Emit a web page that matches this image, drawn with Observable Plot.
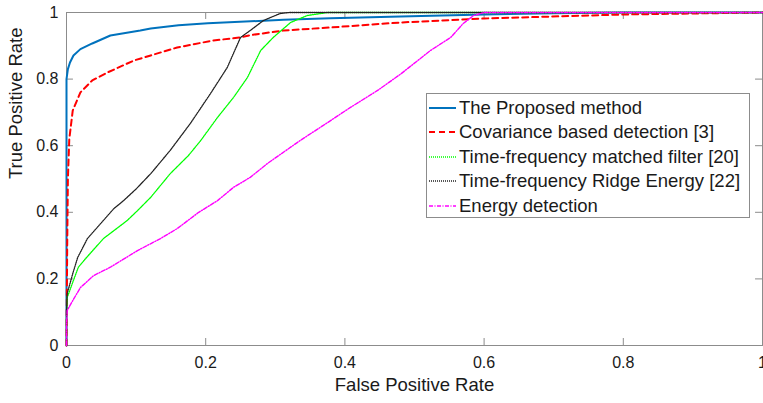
<!DOCTYPE html>
<html>
<head>
<meta charset="utf-8">
<script src="https://cdn.jsdelivr.net/npm/d3@7"></script>
<script src="https://cdn.jsdelivr.net/npm/@observablehq/plot@0.6"></script>
<style>
  html, body { margin: 0; padding: 0; background: #fff; }
  #wrap { position: relative; width: 763px; height: 403px; font-family: "Liberation Sans", Arial, sans-serif; }
  #legend { position: absolute; left: 426px; top: 93px; width: 324px; height: 125px; border: 1px solid #8c8c8c; background: #fff; box-sizing: border-box; }
  .item { position: absolute; left: 0; height: 24px; display: flex; align-items: center; font-size: 18.5px; color: #1a1a1a; white-space: nowrap; }
  .item svg { margin-left: 2px; margin-right: 3px; }
</style>
</head>
<body>
<div id="wrap"><div id="legend"></div></div>
<script>
// ---- data ----
const xTicks = [0, 0.2, 0.4, 0.6, 0.8, 1];
const yTicks = [0, 0.2, 0.4, 0.6, 0.8, 1];

const seriesNames = [
  "The Proposed method",
  "Covariance based detection [3]",
  "Time-frequency matched filter [20]",
  "Time-frequency Ridge Energy [22]",
  "Energy detection"
];

const proposedFpr = [0, 0, 0.002, 0.005, 0.01, 0.02, 0.037, 0.063, 0.106, 0.121, 0.161, 0.203, 0.312, 0.379, 0.48, 0.6, 0.7, 0.8, 1];
const proposedTpr = [0, 0.8, 0.83, 0.85, 0.871, 0.89, 0.907, 0.931, 0.946, 0.952, 0.962, 0.968, 0.978, 0.983, 0.988, 0.994, 0.998, 1, 1];

const covarianceFpr = [0, 0.001, 0.002, 0.004, 0.009, 0.02, 0.037, 0.059, 0.097, 0.121, 0.159, 0.211, 0.25, 0.264, 0.312, 0.379, 0.48, 0.6, 0.8, 1];
const covarianceTpr = [0, 0.3, 0.5, 0.62, 0.706, 0.76, 0.796, 0.82, 0.856, 0.871, 0.895, 0.916, 0.925, 0.932, 0.946, 0.955, 0.97, 0.982, 0.994, 1];

const matchedFpr = [0, 0, 0.001, 0.009, 0.017, 0.027, 0.053, 0.087, 0.102, 0.121, 0.149, 0.175, 0.193, 0.217, 0.24, 0.26, 0.279, 0.297, 0.322, 0.346, 0.375, 1];
const matchedTpr = [0, 0.08, 0.144, 0.19, 0.235, 0.26, 0.321, 0.375, 0.405, 0.445, 0.516, 0.57, 0.616, 0.685, 0.745, 0.805, 0.886, 0.925, 0.97, 0.991, 1, 1];

const ridgeFpr = [0, 0, 0.001, 0.009, 0.016, 0.03, 0.049, 0.068, 0.082, 0.1, 0.121, 0.149, 0.178, 0.207, 0.231, 0.25, 0.264, 0.283, 0.307, 0.32, 1];
const ridgeTpr = [0, 0.1, 0.156, 0.216, 0.264, 0.321, 0.366, 0.411, 0.435, 0.47, 0.516, 0.586, 0.667, 0.757, 0.835, 0.925, 0.946, 0.976, 0.997, 1, 1];

const energyFpr = [0, 0, 0.001, 0.009, 0.02, 0.039, 0.063, 0.102, 0.135, 0.159, 0.19, 0.217, 0.24, 0.264, 0.289, 0.336, 0.369, 0.408, 0.447, 0.48, 0.523, 0.552, 0.57, 0.585, 0.6, 1];
const energyTpr = [0, 0.06, 0.105, 0.135, 0.174, 0.21, 0.235, 0.285, 0.321, 0.351, 0.4, 0.435, 0.475, 0.505, 0.547, 0.616, 0.661, 0.715, 0.766, 0.815, 0.886, 0.925, 0.967, 0.991, 1, 1];

// ---- styles ----
const styles = [
  {stroke: "#0072BD", strokeWidth: 2, dash: null},
  {stroke: "#FF0000", strokeWidth: 2, dash: "6,4"},
  {stroke: "#00FF00", strokeWidth: 1.3, dash: "1,1"},
  {stroke: "#222222", strokeWidth: 1.3, dash: "1,1"},
  {stroke: "#FF00FF", strokeWidth: 1.4, dash: "4,1.5,1,1.5"}
];

const zip = (xs, ys) => xs.map((x, i) => ({x, y: ys[i]}));
const series = [
  zip(proposedFpr, proposedTpr),
  zip(covarianceFpr, covarianceTpr),
  zip(matchedFpr, matchedTpr),
  zip(ridgeFpr, ridgeTpr),
  zip(energyFpr, energyTpr)
];

const frameColor = "#8c8c8c";
const fmt = d => String(d);

const plot = Plot.plot({
  width: 763,
  height: 403,
  marginLeft: 66,
  marginRight: 1,
  marginTop: 12,
  marginBottom: 58,
  style: {fontFamily: "'Liberation Sans', Arial, sans-serif", fontSize: "16px", color: "#1a1a1a", background: "transparent"},
  x: {domain: [0, 1]},
  y: {domain: [0, 1]},
  marks: [
    Plot.axisX({ticks: xTicks, tickSize: 0, tickPadding: 11, tickFormat: fmt, label: null, fontSize: 16}),
    Plot.axisY({ticks: yTicks, tickSize: 0, tickPadding: 8, tickFormat: fmt, label: null, fontSize: 16}),
    Plot.ruleX(xTicks, {x: d => d, y1: 0, y2: 0.021, stroke: frameColor}),
    Plot.ruleX(xTicks, {x: d => d, y1: 1, y2: 0.979, stroke: frameColor}),
    Plot.ruleY(yTicks, {y: d => d, x1: 0, x2: 0.01, stroke: frameColor}),
    Plot.ruleY(yTicks, {y: d => d, x1: 1, x2: 0.99, stroke: frameColor}),
    Plot.frame({stroke: frameColor}),
    ...series.map((data, i) => Plot.line(data, {
      x: "x", y: "y",
      stroke: styles[i].stroke,
      strokeWidth: styles[i].strokeWidth,
      strokeDasharray: styles[i].dash
    })),
    Plot.text(["False Positive Rate"], {text: d => d, frameAnchor: "bottom", dy: 45, fontSize: 18.5, fill: "#1a1a1a"}),
    Plot.text(["True Positive Rate"], {text: d => d, frameAnchor: "left", dx: -50, rotate: -90, fontSize: 18.5, fill: "#1a1a1a"})
  ]
});

const wrap = document.getElementById("wrap");
wrap.insertBefore(plot, wrap.firstChild);

// ---- legend ----
const legend = document.getElementById("legend");
const rowTops = [14, 38, 63, 87, 112];
seriesNames.forEach((name, i) => {
  const row = document.createElement("div");
  row.className = "item";
  row.style.top = (rowTops[i] - 12) + "px";
  const s = styles[i];
  row.innerHTML = `<svg width="27" height="10"><line x1="0" y1="5" x2="27" y2="5" stroke="${s.stroke}" stroke-width="${s.strokeWidth}" ${s.dash ? `stroke-dasharray="${s.dash}"` : ""}/></svg><span>${name}</span>`;
  legend.appendChild(row);
});
</script>
</body>
</html>
